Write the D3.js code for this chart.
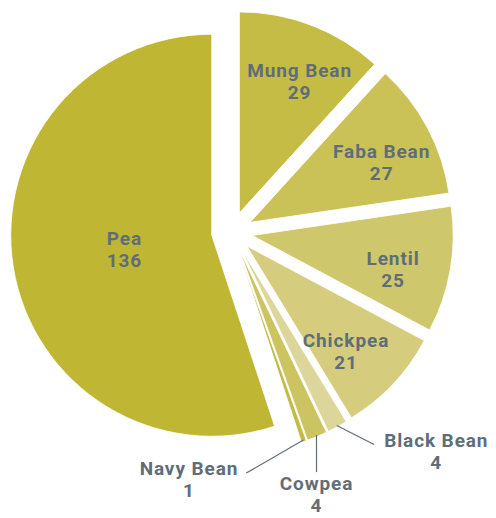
<!DOCTYPE html>
<html>
<head>
<meta charset="utf-8">
<script src="https://cdn.jsdelivr.net/npm/d3@7"></script>
<style>
  body { margin: 0; background: #fff; }
  text { font-family: Roboto, sans-serif; font-weight: 700; fill: #5f6d79; font-size: 19px; letter-spacing: 0.9px; }
</style>
</head>
<body>
<svg width="496" height="518"></svg>
<script>
// pulse crops, clockwise from 12 o'clock
const crops = ["Mung Bean", "Faba Bean", "Lentil", "Chickpea", "Black Bean", "Cowpea", "Navy Bean", "Pea"];
const counts = [29, 27, 25, 21, 4, 4, 1, 136];
const colors = ["#c4bc44", "#cac257", "#cfc76b", "#d5cd7d", "#dcd69b", "#ccc461", "#c3bb46", "#bfb633"];

const svg = d3.select("svg"),
  cx = 232, cy = 232,
  radius = 201,
  explode = 20.5,
  lineGap = 22;

const data = crops.map((c, i) => ({ crop: c, count: counts[i], color: colors[i] }));

const pie = d3.pie().sort(null).value(d => d.count);
const arc = d3.arc().innerRadius(0).outerRadius(radius);
const arcs = pie(data);
const maxCount = d3.max(counts);

const g = svg.append("g").attr("transform", `translate(${cx},${cy})`);

// each slice pushed out along its middle angle
const mid = d => (d.startAngle + d.endAngle) / 2;
const shift = d => d3.pointRadial(mid(d), explode);

g.selectAll("path.slice")
  .data(arcs)
  .join("path")
  .attr("class", "slice")
  .attr("transform", d => `translate(${shift(d)})`)
  .attr("d", arc)
  .attr("fill", d => d.data.color)
  .attr("stroke", "#fff")
  .attr("stroke-width", 0.8);

// two-line label (name, count) centred on a point
function label(x, y, name, count) {
  g.append("text").attr("text-anchor", "middle")
    .attr("x", x).attr("y", y - lineGap / 2).attr("dy", "0.36em").text(name);
  g.append("text").attr("text-anchor", "middle")
    .attr("x", x).attr("y", y + lineGap / 2).attr("dy", "0.36em").text(count);
}

// labels inside the bigger slices
arcs.filter(d => d.data.count >= 10).forEach(d => {
  const big = d.data.count === maxCount;
  const [sx, sy] = shift(d);
  const [px, py] = d3.pointRadial(big ? mid(d) : mid(d) + 0.06, radius * (big ? 0.44 : 0.72));
  label(sx + px, sy + py, d.data.crop, d.data.count);
});

// small slices: leader lines to labels outside the pie
const leaderStyle = {
  "Black Bean": { angle: 117, len: 42, anchor: "start" },
  "Cowpea": { angle: 180, len: 37, anchor: "below" },
  "Navy Bean": { angle: 240, len: 66, anchor: "end" }
};

arcs.filter(d => d.data.count < 10).forEach(d => {
  const st = leaderStyle[d.data.crop];
  const [sx, sy] = shift(d);
  const [ox, oy] = d3.pointRadial(mid(d), radius);
  const x0 = sx + ox - Math.sin(mid(d)) * 1.5, y0 = sy + oy + Math.cos(mid(d)) * 1.5;
  const [lx, ly] = d3.pointRadial(st.angle * Math.PI / 180, st.len);
  const x1 = x0 + lx, y1 = y0 + ly;

  g.append("line")
    .attr("x1", x0).attr("y1", y0)
    .attr("x2", x1).attr("y2", y1)
    .attr("stroke", "#5f6d79")
    .attr("stroke-width", 1.2);

  // measure the name so both lines can be centred on it
  const probe = g.append("text").text(d.data.crop);
  const w = probe.node().getComputedTextLength();
  probe.remove();

  let tx, ty;
  if (st.anchor === "start") { tx = x1 + 10 + w / 2; ty = y1 + 7; }
  else if (st.anchor === "end") { tx = x1 - 8 - w / 2; ty = y1 + 6; }
  else { tx = x1; ty = y1 + 22; }
  label(tx, ty, d.data.crop, d.data.count);
});
</script>
</body>
</html>
